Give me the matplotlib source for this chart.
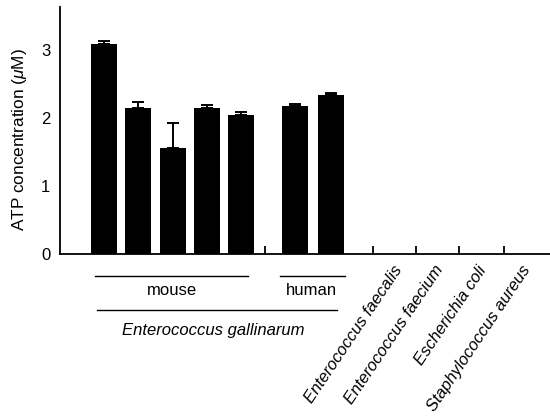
"""ATP concentration in culture supernatants of several bacterial strains."""

import matplotlib

matplotlib.use("Agg")
import matplotlib.pyplot as plt
from matplotlib.transforms import blended_transform_factory

plt.rcParams["font.family"] = ["Liberation Sans", "DejaVu Sans"]
plt.rcParams["mathtext.fontset"] = "custom"
plt.rcParams["mathtext.rm"] = "Liberation Sans"
plt.rcParams["mathtext.it"] = "Liberation Sans:italic"

# E. gallinarum isolates (mouse, human) and the other species (no ATP)
mouse_values = [3.08, 2.15, 1.56, 2.15, 2.05]
mouse_errors = [0.05, 0.08, 0.36, 0.04, 0.04]
human_values = [2.18, 2.33]
human_errors = [0.03, 0.04]
other_species = [
    "Enterococcus faecalis",
    "Enterococcus faecium",
    "Escherichia coli",
    "Staphylococcus aureus",
]
other_values = [0, 0, 0, 0]
y_ticks = [0, 1, 2, 3]

# layout (x in bar-slot units)
MOUSE_X = [0, 1, 2, 3, 4]
HUMAN_X = [5.58, 6.63]
OTHER_LABEL_X = [8.42, 9.62, 10.9, 12.18]
SEPARATOR_X = [4.7, 7.85, 9.11, 10.36, 11.68]
BAR_WIDTH = 0.76
FONT_SIZE = 12


def main() -> None:
    fig = plt.figure(figsize=(5.5, 4.19), dpi=100)
    ax = fig.add_axes([60 / 550, 1 - 254 / 419, 490 / 550, 247 / 419])

    err_style = dict(ecolor="black", elinewidth=1.4, capsize=4, capthick=1.4)
    ax.bar(MOUSE_X, mouse_values, width=BAR_WIDTH, color="black",
           yerr=[[0] * len(mouse_errors), mouse_errors], error_kw=err_style)
    ax.bar(HUMAN_X, human_values, width=BAR_WIDTH, color="black",
           yerr=[[0] * len(human_errors), human_errors], error_kw=err_style)

    ax.set_xlim(-1.285, 13.02)
    ax.set_ylim(0, 3.63)
    ax.set_yticks(y_ticks)
    ax.set_xticks(SEPARATOR_X)
    ax.set_xticklabels([])
    ax.tick_params(axis="y", length=0, pad=7, labelsize=FONT_SIZE)
    ax.tick_params(axis="x", direction="in", length=6, width=1.3)
    for side in ("top", "right"):
        ax.spines[side].set_visible(False)
    for side in ("left", "bottom"):
        ax.spines[side].set_linewidth(1.3)
    ax.set_ylabel(r"ATP concentration ($\mathit{\mu}$M)", fontsize=12.4)
    ax.yaxis.set_label_coords(-0.063, 0.465)

    trans = blended_transform_factory(ax.transData, ax.transAxes)
    line_kw = dict(color="black", linewidth=1.0, transform=trans, clip_on=False)
    ax.plot([-0.26, 4.2], [-0.089, -0.089], **line_kw)
    ax.plot([5.14, 7.04], [-0.089, -0.089], **line_kw)
    ax.plot([-0.2, 6.8], [-0.227, -0.227], **line_kw)
    ax.text(1.99, -0.146, "mouse", transform=trans, ha="center", va="center",
            fontsize=FONT_SIZE)
    ax.text(6.07, -0.146, "human", transform=trans, ha="center", va="center",
            fontsize=FONT_SIZE)
    ax.text(3.18, -0.308, "Enterococcus gallinarum", transform=trans,
            ha="center", va="center", fontsize=FONT_SIZE, style="italic")

    for x, name in zip(OTHER_LABEL_X, other_species):
        ax.text(x, -0.035, name, transform=trans, ha="right", va="top",
                rotation=56, rotation_mode="anchor", fontsize=FONT_SIZE,
                style="italic")

    fig.savefig("out.png", dpi=100)


if __name__ == "__main__":
    main()
